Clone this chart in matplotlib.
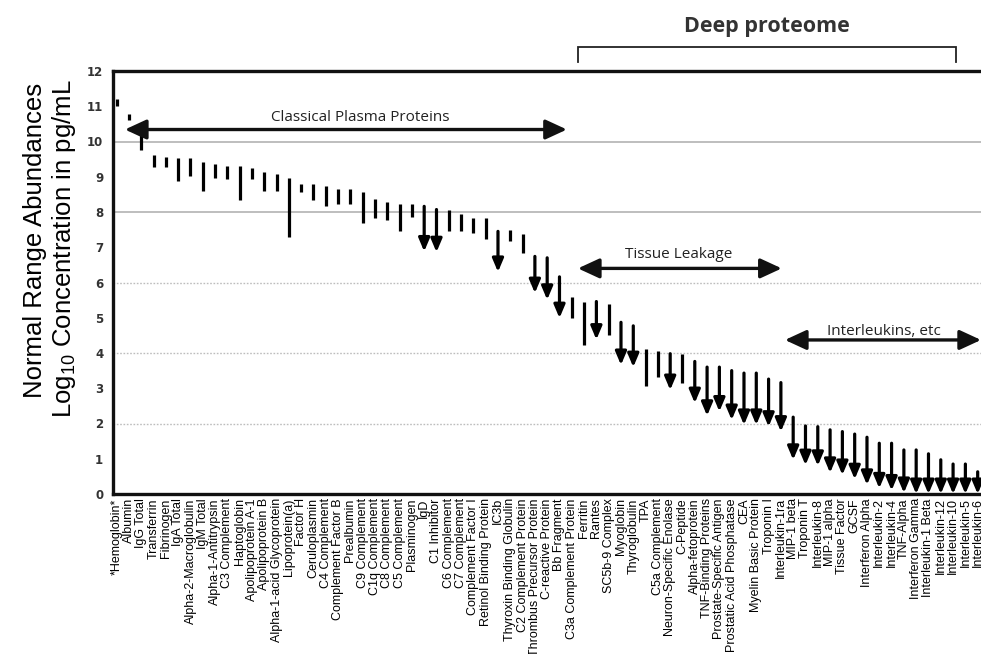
import matplotlib
matplotlib.use("Agg")
import matplotlib.pyplot as plt

# ---------------- data ----------------
proteins = [
    "*Hemoglobin*", "Albumin", "IgG Total", "Transferrin", "Fibrinogen", "IgA Total",
    "Alpha-2-Macroglobulin", "IgM Total", "Alpha-1-Antitrypsin", "C3 Complement",
    "Haptoglobin", "Apolipoprotein A-1", "Apolipoprotein B", "Alpha-1-acid Glycoprotein",
    "Lipoprotein(a)", "Factor H", "Ceruloplasmin", "C4 Complement", "Complement Factor B",
    "Prealbumin", "C9 Complement", "C1q Complement", "C8 Complement", "C5 Complement",
    "Plasminogen", "IgD", "C1 Inhibitor", "C6 Complement", "C7 Complement",
    "Complement Factor I", "Retinol Binding Protein", "IC3b", "Thyroxin Binding Globulin",
    "C2 Complement Protein", "Thrombus Precursor Protein", "C-reactive Protein",
    "Bb Fragment", "C3a Complement Protein", "Ferritin", "Rantes", "SC5b-9 Complex",
    "Myoglobin", "Thyroglobulin", "TPA", "C5a Complement", "Neuron-Specific Enolase",
    "C-Peptide", "Alpha-fetoprotein", "TNF-Binding Proteins", "Prostate-Specific Antigen",
    "Prostatic Acid Phosphatase", "CEA", "Myelin Basic Protein", "Troponin I",
    "Interleukin-1ra", "MIP-1 beta", "Troponin T", "Interleukin-8", "MIP-1 alpha",
    "Tissue Factor", "GCSF", "Interferon Alpha", "Interleukin-2", "Interleukin-4",
    "TNF-Alpha", "Interferon Gamma", "Interleukin-1 Beta", "Interleukin-12",
    "Interleukin-10", "Interleukin-5", "Interleukin-6",
]

high = [
    11.2, 10.78, 10.3, 9.62, 9.55, 9.52, 9.52, 9.42, 9.35, 9.3,
    9.3, 9.25, 9.13, 9.08, 8.97, 8.8, 8.8, 8.75, 8.64, 8.64,
    8.57, 8.37, 8.28, 8.23, 8.23, 8.16, 8.07, 8.07, 7.95, 7.83,
    7.83, 7.45, 7.48, 7.39, 6.74, 6.7, 6.16, 5.59, 5.46, 5.46,
    5.4, 4.87, 4.77, 4.11, 4.07, 3.98, 3.98, 3.76, 3.6, 3.6,
    3.5, 3.43, 3.43, 3.26, 3.16, 2.18, 1.93, 1.91, 1.82, 1.77,
    1.7, 1.61, 1.44, 1.44, 1.25, 1.25, 1.14, 0.97, 0.85, 0.85,
    0.63,
]

low = [
    11.0, 10.6, 9.75, 9.28, 9.28, 8.87, 9.03, 8.6, 8.97, 8.94,
    8.33, 8.94, 8.6, 8.6, 7.3, 8.56, 8.35, 8.18, 8.24, 8.24,
    7.69, 7.83, 7.78, 7.45, 7.86, 6.88, 6.86, 7.45, 7.45, 7.4,
    7.22, 6.3, 7.17, 6.84, 5.7, 5.51, 4.99, 4.99, 4.23, 4.38,
    4.52, 3.66, 3.6, 3.07, 3.33, 2.95, 3.16, 2.58, 2.22, 2.34,
    2.1, 1.96, 1.96, 1.91, 1.77, 0.97, 0.82, 0.8, 0.6, 0.54,
    0.42, 0.26, 0.16, 0.1, 0.03, 0.0, 0.0, 0.0, 0.0, 0.0,
    0.0,
]

# 1 = lower limit open (drawn as a downward arrow)
open_low = [
    0, 0, 0, 0, 0, 0, 0, 0, 0, 0,
    0, 0, 0, 0, 0, 0, 0, 0, 0, 0,
    0, 0, 0, 0, 0, 1, 1, 0, 0, 0,
    0, 1, 0, 0, 1, 1, 1, 0, 0, 1,
    0, 1, 1, 0, 0, 1, 0, 1, 1, 1,
    1, 1, 1, 1, 1, 1, 1, 1, 1, 1,
    1, 1, 1, 1, 1, 1, 1, 1, 1, 1,
    1,
]

yticks = list(range(0, 13))
solid_grid = [8, 10]
dotted_grid = [2, 4, 6]

# ---------------- figure ----------------
plt.rcParams['mathtext.fontset'] = 'custom'
plt.rcParams['mathtext.rm'] = 'Liberation Sans'
plt.rcParams['mathtext.it'] = 'Liberation Sans:italic'

W, H = 981, 654
fig = plt.figure(figsize=(W / 100, H / 100), dpi=100)
ax_l, ax_r, ax_b, ax_t = 113, 981, 494, 71
ax = fig.add_axes([ax_l / W, 1 - ax_b / H, (ax_r - ax_l) / W, (ax_b - ax_t) / H])

ax.set_xlim(-0.30, 70.27)
ax.set_ylim(0, 12)

for g in solid_grid:
    ax.axhline(g, color='#b3b3b3', lw=1.2, zorder=0)
for g in dotted_grid:
    ax.axhline(g, color='#bdbdbd', lw=1.0, ls=(0, (1.2, 1.2)), zorder=0)

xs = list(range(len(proteins)))
bar_lw = 2.3
for x, lo, hi, op in zip(xs, low, high, open_low):
    if op:
        ax.annotate('', xy=(x, lo), xytext=(x, hi),
                    arrowprops=dict(arrowstyle='-|>,head_length=0.78,head_width=0.33',
                                    mutation_scale=10, lw=bar_lw, color='black',
                                    shrinkA=0, shrinkB=0),
                    annotation_clip=False, zorder=3)
    else:
        ax.vlines(x, lo, hi, color='black', lw=bar_lw, zorder=3)

# spines
for s in ['left', 'top', 'bottom']:
    ax.spines[s].set_linewidth(2.4)
    ax.spines[s].set_color('#111111')
ax.spines['right'].set_visible(False)

ax.set_yticks(yticks)
ax.set_yticklabels([str(t) for t in yticks], fontfamily='DejaVu Sans',
                   fontweight='bold', fontsize=8.5, color='#333333')
ax.tick_params(axis='y', length=0, pad=7)

ax.set_xticks(xs)
ax.set_xticklabels(proteins, rotation=90, fontfamily='Liberation Sans', fontsize=9)
ax.tick_params(axis='x', length=0, pad=3)

# range annotations
def span_arrow(x0, x1, y, text, tx, ty):
    ax.annotate('', xy=(x0, y), xytext=(x1, y),
                arrowprops=dict(arrowstyle='<|-|>,head_length=1.3,head_width=0.6',
                                mutation_scale=10, lw=2.4, color='#111111',
                                shrinkA=0, shrinkB=0),
                annotation_clip=False, zorder=4)
    ax.text(tx, ty, text, ha='center', va='center', fontfamily='Open Sans',
            fontsize=11, color='#222222', zorder=4)

span_arrow(0.67, 36.6, 10.34, 'Classical Plasma Proteins', 19.8, 10.68)
span_arrow(37.5, 54.07, 6.40, 'Tissue Leakage', 45.7, 6.79)
span_arrow(54.33, 70.27, 4.37, 'Interleukins, etc', 62.4, 4.61)

# Deep proteome bracket
bx0, bx1, by, byt = 37.5, 68.2, 12.69, 12.25
ax.plot([bx0, bx0, bx1, bx1], [byt, by, by, byt], color='#222222', lw=1.3,
        clip_on=False, solid_joinstyle='miter')
ax.text((bx0 + bx1) / 2, 13.27, 'Deep proteome', ha='center', va='center',
        fontfamily='Open Sans', fontweight='bold', fontsize=15.5, color='#333333',
        clip_on=False)

# y label (two lines)
fig.text(35 / W, 1 - 240 / H, 'Normal Range Abundances', rotation=90,
         ha='center', va='center', fontfamily='Liberation Sans', fontsize=18.5)
fig.text(64 / W, 1 - 249 / H, r'Log$_{\mathrm{10}}$ Concentration in pg/mL', rotation=90,
         ha='center', va='center', fontfamily='Liberation Sans', fontsize=18.5)

fig.savefig('out.png', dpi=100)
